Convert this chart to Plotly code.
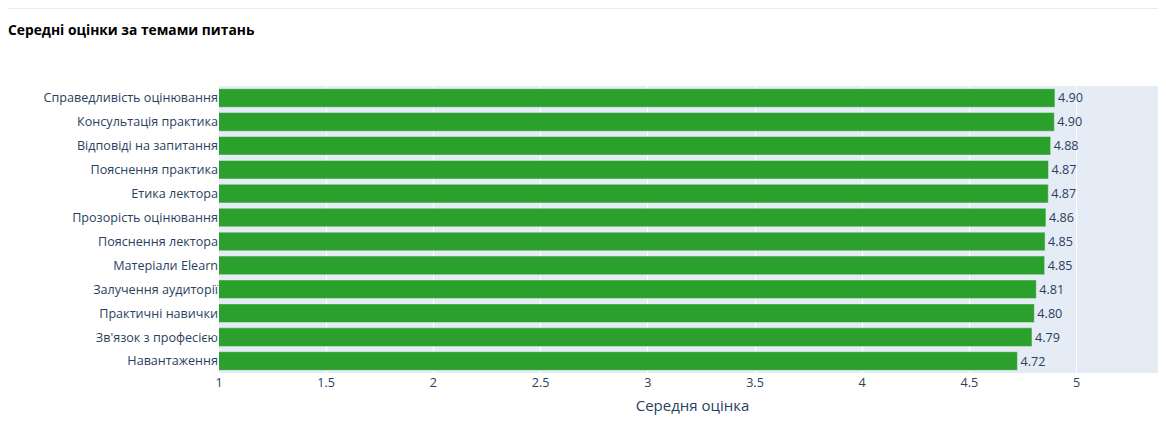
import plotly.graph_objects as go

topics = [
    "Навантаження",
    "Зв'язок з професією",
    "Практичні навички",
    "Залучення аудиторії",
    "Матеріали Elearn",
    "Пояснення лектора",
    "Прозорість оцінювання",
    "Етика лектора",
    "Пояснення практика",
    "Відповіді на запитання",
    "Консультація практика",
    "Справедливість оцінювання",
]
scores = [4.724, 4.792, 4.803, 4.812, 4.851, 4.853, 4.857, 4.868, 4.869, 4.879, 4.896, 4.899]

fig = go.Figure(go.Bar(
    x=scores,
    y=topics,
    orientation="h",
    marker_color="#2ca02c",
    texttemplate="%{x:.2f}",
    textposition="outside",
    cliponaxis=False,
))

# page puts the plot 8px in from the top-left, so size and margins are cut to fit
fig.update_layout(
    template="plotly",
    width=1158,
    height=418,
    font=dict(family="Open Sans, Arial, sans-serif", size=12.6, color="#2a3f5f"),
    title=dict(
        text="<b>Середні оцінки за темами питань</b>",
        x=0, xref="container", xanchor="left", y=0.947, yanchor="middle",
        pad=dict(l=0),
        font=dict(size=13.8, color="#000000"),
    ),
    margin=dict(l=211, r=0, t=78, b=53),
    showlegend=False,
    bargap=0.22,
    shapes=[dict(type="line", xref="paper", yref="paper", x0=-0.224, x1=1.0,
                 y0=1.27, y1=1.27, line=dict(color="#ececec", width=1))],
)
fig.update_xaxes(
    range=[1, 5.417],
    dtick=0.5,
    title=dict(text="Середня оцінка", standoff=10),
)
fig.update_yaxes(automargin=False)

fig.write_html("out.html")
